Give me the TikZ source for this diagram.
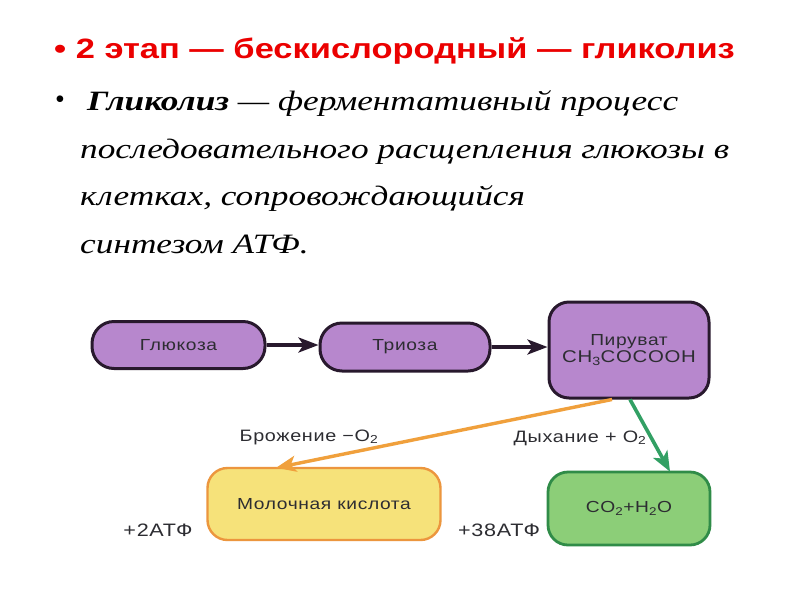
\documentclass[tikz,border=0pt]{standalone}
\usepackage{fontspec}
\setmainfont{Liberation Serif}
\setsansfont{Liberation Sans}
\newfontfamily\titlefont[FakeStretch=1.23]{Liberation Sans}
\newfontfamily\bodyfont[FakeStretch=1.26]{Liberation Serif}
\newfontfamily\diagfont[FakeStretch=1.2, LetterSpace=4]{Liberation Sans}
\usetikzlibrary{arrows.meta}
\definecolor{titlered}{RGB}{235,0,0}
\definecolor{lilac}{RGB}{183,135,205}
\definecolor{lilacborder}{RGB}{40,25,45}
\definecolor{yellowfill}{RGB}{246,226,122}
\definecolor{yellowborder}{RGB}{236,150,62}
\definecolor{greenfill}{RGB}{140,206,120}
\definecolor{greenborder}{RGB}{48,140,72}
\definecolor{orangearrow}{RGB}{240,160,60}
\definecolor{greenarrow}{RGB}{50,160,100}
\definecolor{labelgray}{RGB}{45,45,50}
\tikzset{
  pill/.style={draw=lilacborder, line width=3pt, fill=lilac, rounded corners=22pt,
    font=\diagfont\fontsize{16}{18}\selectfont, text=labelgray, inner sep=0},
  pyrbox/.style={draw=lilacborder, line width=3pt, fill=lilac, rounded corners=20pt,
    font=\diagfont\fontsize{16}{20}\selectfont, text=labelgray, inner sep=0, align=center},
  yellowbox/.style={draw=yellowborder, line width=2.4pt, fill=yellowfill, rounded corners=20pt,
    font=\diagfont\fontsize{16}{18}\selectfont, text=labelgray, inner sep=0},
  greenbox/.style={draw=greenborder, line width=2.8pt, fill=greenfill, rounded corners=20pt,
    font=\diagfont\fontsize{16}{18}\selectfont, text=labelgray, inner sep=0},
  lbl/.style={font=\diagfont\fontsize{16.5}{18}\selectfont, text=labelgray, inner sep=0},
  atp/.style={font=\diagfont\fontsize{18}{20}\selectfont, text=labelgray, inner sep=0},
  blackarrow/.style={draw=lilacborder, line width=3.6pt, -{Stealth[length=20pt,width=15pt,inset=5pt]}},
  bodytext/.style={anchor=base west, inner sep=0, font=\bodyfont\itshape\fontsize{28}{30}\selectfont}
}
\begin{document}
\begin{tikzpicture}[x=1pt,y=-1pt]
\useasboundingbox[fill=white] (0,0) rectangle (800,600);
% title
\node[anchor=base west, inner sep=0, text=titlered, font=\titlefont\bfseries\fontsize{28}{30}\selectfont] (title) at (54,58) {•\ 2 этап — бескислородный — гликолиз};
% body
\node[anchor=base west, inner sep=0, font=\fontsize{28}{30}\selectfont] (b2) at (55,108) {•};
\node[bodytext] (l1) at (87,110) {\textbf{Гликолиз} — ферментативный процесс};
\node[bodytext] (l2) at (80,158) {последовательного расщепления глюкозы в};
\node[bodytext] (l3) at (80,205) {клетках, сопровождающийся};
\node[bodytext] (l4) at (80,253) {синтезом АТФ.};
% diagram
\node[pill, minimum width=173pt, minimum height=47pt] (gl) at (178.5,345) {Глюкоза};
\node[pill, minimum width=170pt, minimum height=48pt] (tr) at (405,347) {Триоза};
\node[pyrbox, minimum width=160pt, minimum height=96pt] (pyr) at (629,350) {Пируват\\[-3pt]{\fontsize{17}{20}\selectfont CH\textsubscript{3}COCOOH}};
\node[yellowbox, minimum width=233pt, minimum height=72pt] (mol) at (324,504) {Молочная кислота};
\node[greenbox, minimum width=162pt, minimum height=73pt] (co) at (629,508.5) {CO\textsubscript{2}+H\textsubscript{2}O};
\draw[blackarrow] (gl.east) -- (gl.east -| tr.west);
\draw[blackarrow] (tr.east) -- (tr.east -| pyr.west);
\draw[draw=orangearrow, line width=3.4pt, -{Stealth[length=20pt,width=16pt,inset=5pt]}] ([xshift=-17pt]pyr.south) -- ([xshift=-48pt,yshift=-1pt]mol.north);
\draw[draw=greenarrow, line width=3.6pt, -{Stealth[length=20pt,width=16pt,inset=5pt]}] ([xshift=1pt]pyr.south) -- ([xshift=41pt,yshift=-1pt]co.north);
\node[lbl] (fer) at (309,437) {Брожение −O\textsubscript{2}};
\node[lbl] (resp) at (580,438) {Дыхание + O\textsubscript{2}};
\node[atp] (atp2) at (158,530) {+2АТФ};
\node[atp] (atp38) at (499,530) {+38АТФ};
\end{tikzpicture}
\end{document}
